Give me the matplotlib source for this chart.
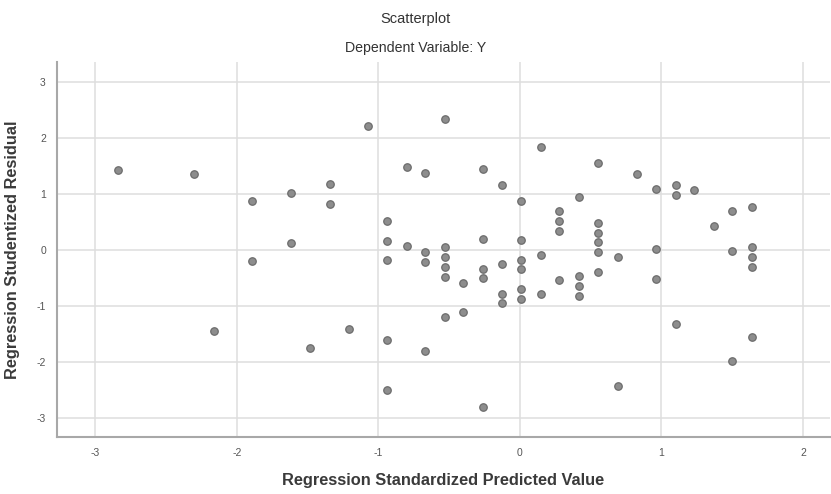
import matplotlib.pyplot as plt

pred_x = [
    -2.84, -2.30, -1.89, -1.89, -1.62, -1.62, -1.34, -1.34, -2.16, -1.48,
    -1.21, -1.07, -0.94, -0.94, -0.94, -0.94, -0.94, -0.80, -0.80, -0.67,
    -0.67, -0.67, -0.67, -0.53, -0.53, -0.53, -0.53, -0.53, -0.53, -0.40,
    -0.40, -0.26, -0.26, -0.26, -0.26, -0.26, -0.125, -0.125, -0.125, -0.125,
    0.01, 0.01, 0.01, 0.01, 0.01, 0.01, 0.146, 0.146, 0.146, 0.28,
    0.28, 0.28, 0.28, 0.42, 0.42, 0.42, 0.42, 0.55, 0.55, 0.55,
    0.55, 0.55, 0.55, 0.69, 0.69, 0.825, 0.96, 0.96, 0.96, 1.10,
    1.10, 1.10, 1.23, 1.37, 1.50, 1.50, 1.50, 1.64, 1.64, 1.64,
    1.64, 1.64,
]
resid_y = [
    1.42, 1.36, 0.87, -0.20, 1.02, 0.13, 1.17, 0.82, -1.45, -1.74,
    -1.41, 2.21, 0.52, 0.17, -0.18, -1.60, -2.49, 1.48, 0.07, 1.38,
    -0.03, -0.21, -1.79, 2.34, 0.05, -0.13, -0.30, -0.48, -1.19, -0.58,
    -1.11, 1.44, 0.20, -0.33, -0.50, -2.79, 1.16, -0.24, -0.78, -0.95,
    0.88, 0.18, -0.17, -0.34, -0.70, -0.88, 1.84, -0.09, -0.79, 0.69,
    0.52, 0.34, -0.54, 0.94, -0.46, -0.64, -0.82, 1.55, 0.49, 0.31,
    0.14, -0.04, -0.39, -0.12, -2.43, 1.36, 1.09, 0.02, -0.51, 1.16,
    0.98, -1.32, 1.07, 0.43, 0.69, -0.02, -1.98, 0.77, 0.06, -0.12,
    -0.30, -1.55,
]
x_ticks = [-3, -2, -1, 0, 1, 2]
y_ticks = [-3, -2, -1, 0, 1, 2, 3]

plt.rcParams["font.family"] = ["Liberation Sans", "DejaVu Sans"]
plt.rcParams["axes.unicode_minus"] = False

fig = plt.figure(figsize=(8.31, 4.94), dpi=100)
ax = fig.add_axes([0.0686, 0.1154, 0.93, 0.759])

ax.scatter(pred_x, resid_y, s=29, color="#8d8d8d", edgecolors="#6c6c6c",
           linewidths=0.9, zorder=3)

ax.set_xlim(-3.27, 2.19)
ax.set_ylim(-3.33, 3.35)
ax.set_xticks(x_ticks)
ax.set_yticks(y_ticks)
ax.grid(True, color="#dedede", linewidth=1.1, zorder=0)
ax.set_axisbelow(True)

for side in ["top", "right"]:
    ax.spines[side].set_visible(False)
for side in ["left", "bottom"]:
    ax.spines[side].set_color("#a8a8a8")
    ax.spines[side].set_linewidth(1.5)

ax.tick_params(length=0, labelsize=7.5, labelcolor="#555555", pad=8)

ax.set_xlabel("Regression Standardized Predicted Value", fontsize=11.8,
              fontweight="bold", color="#3a3a3a", labelpad=11)
ax.set_ylabel("Regression Studentized Residual", fontsize=11.8,
              fontweight="bold", color="#3a3a3a", labelpad=12)

fig.text(0.5, 0.962, "Scatterplot", ha="center", va="center",
         fontsize=10.5, color="#333333")
fig.text(0.5, 0.902, "Dependent Variable: Y", ha="center", va="center",
         fontsize=10.2, color="#333333")

fig.savefig("out.png", dpi=100)
